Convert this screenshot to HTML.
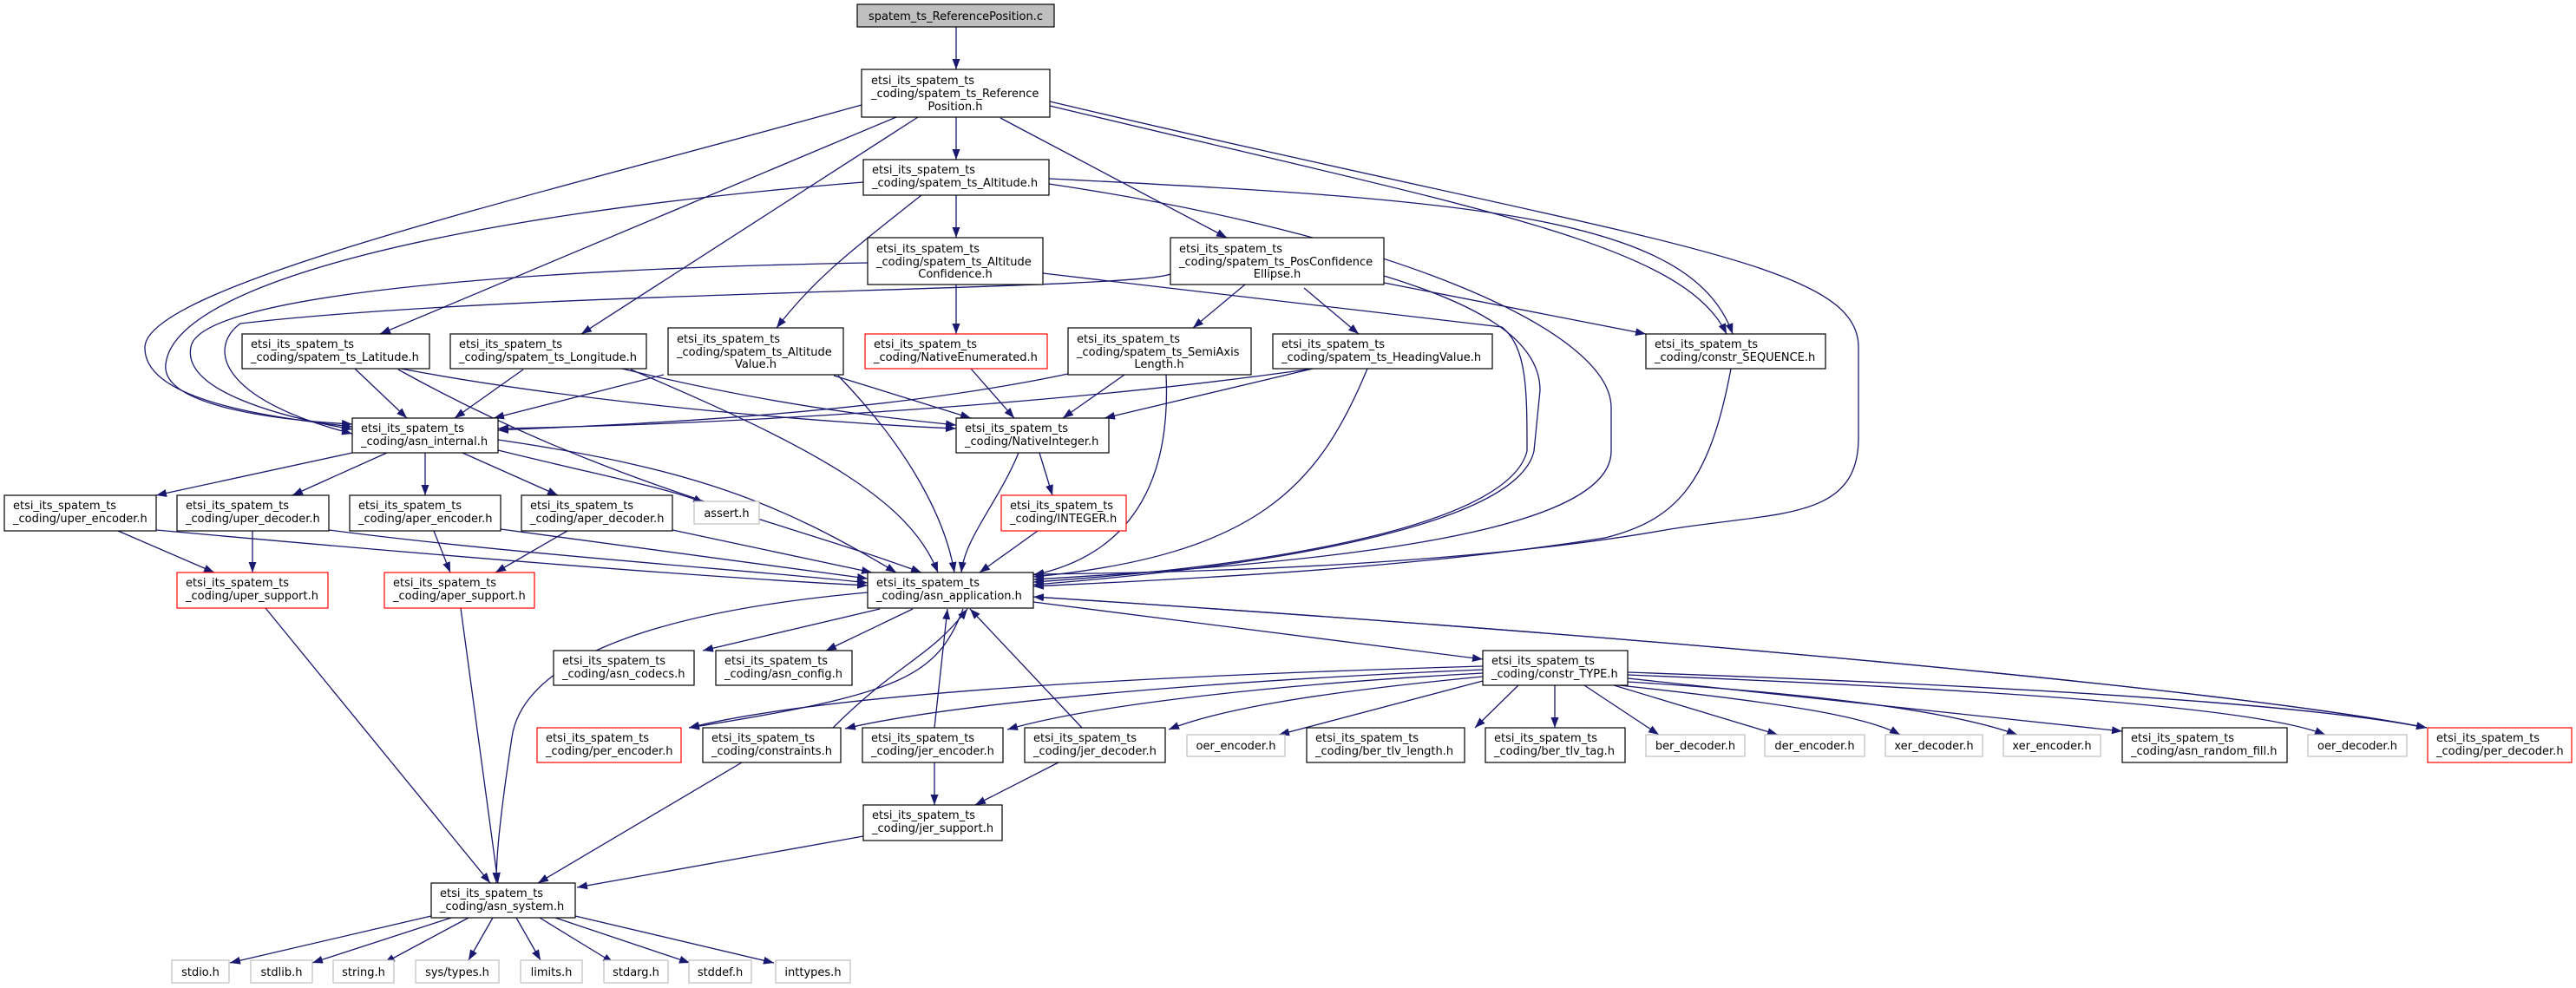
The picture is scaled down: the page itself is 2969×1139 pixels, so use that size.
<!DOCTYPE html>
<html><head><meta charset="utf-8"><style>
html,body{margin:0;padding:0;background:#fff;}
svg{display:block;}
text{font-family:"DejaVu Sans","Liberation Sans",sans-serif;font-size:13px;fill:#000;}
.n{fill:#fff;stroke:#000;stroke-width:1.2;}
.g{fill:#fff;stroke:#bfbfbf;stroke-width:1.2;}
.r{fill:#fff;stroke:#ff0000;stroke-width:1.2;}
.e{fill:none;stroke:#191970;stroke-width:1.3;}
</style></head><body>
<svg width="2969" height="1139" viewBox="0 0 2969 1139" xmlns="http://www.w3.org/2000/svg">
<defs><marker id="a" markerUnits="userSpaceOnUse" markerWidth="12" markerHeight="10" refX="12" refY="4.5" orient="auto"><path d="M0,0 L12,4.5 L0,9 z" fill="#191970"/></marker></defs>
<g class="e" marker-end="url(#a)">
<path d="M1102,31 L1102,80"/>
<path d="M1102,135 L1102,184"/>
<path d="M1033,135 L438,385"/>
<path d="M1058,135 L670,385"/>
<path d="M993,121 C600,230 170,330 167,400 C165,460 300,480 406,492"/>
<path d="M1153,136 L1414,274"/>
<path d="M1210,122 C1700,240 1940,280 1990,385"/>
<path d="M1210,117 C1900,280 2142,300 2142,400 L2142,505 C2142,600 2050,590 1925,610 C1700,650 1400,660 1191,662"/>
<path d="M1209,206 C1700,230 1950,250 1997,385"/>
<path d="M1209,212 C1600,270 1857,380 1857,470 L1857,520 C1857,620 1500,650 1191,668"/>
<path d="M1202,315 L1731,377 C1760,400 1760,450 1760,520 C1740,600 1500,650 1191,671"/>
<path d="M1595,318 C1700,350 1775,390 1775,450 L1768,520 C1750,600 1500,650 1191,674"/>
<path d="M1995,425 C1970,560 1930,600 1850,620 C1600,660 1300,670 1191,676"/>
<path d="M1576,425 C1520,560 1450,640 1191,665"/>
<path d="M1344,432 C1350,560 1300,640 1191,663"/>
<path d="M1000,303 C600,310 230,340 220,400 C210,450 320,480 406,495"/>
<path d="M1102,328 L1102,385"/>
<path d="M995,210 C500,250 200,330 191,420 C185,470 330,485 406,489"/>
<path d="M1102,225 L1102,274"/>
<path d="M1062,225 C980,290 940,320 895,378"/>
<path d="M1349,316 C1300,335 600,335 277,373 C240,400 250,460 406,500"/>
<path d="M1435,328 L1375,378"/>
<path d="M1503,332 L1566,385"/>
<path d="M1595,326 L1897,385"/>
<path d="M409,425 L469,482"/>
<path d="M462,425 C700,470 1000,490 1102,494"/>
<path d="M459,426 C700,560 900,600 1062,660"/>
<path d="M603,426 L524,482"/>
<path d="M717,425 C900,470 1050,485 1102,490"/>
<path d="M727,426 C950,520 1050,580 1081,660"/>
<path d="M765,432 L569,482"/>
<path d="M961,433 L1119,482"/>
<path d="M966,433 C1050,520 1090,600 1100,660"/>
<path d="M1119,425 L1169,482"/>
<path d="M1231,431 C1000,480 700,490 574,496"/>
<path d="M1296,432 L1225,482"/>
<path d="M1513,425 C1200,470 800,490 574,494"/>
<path d="M1513,425 L1273,482"/>
<path d="M1174,522 C1150,580 1112,620 1108,660"/>
<path d="M1198,522 L1213,571"/>
<path d="M1196,612 L1129,660"/>
<path d="M406,522 L180,571"/>
<path d="M446,522 L337,571"/>
<path d="M490,522 L490,571"/>
<path d="M533,522 L643,571"/>
<path d="M574,519 C700,550 780,565 811,580"/>
<path d="M574,507 C800,540 900,580 1033,660"/>
<path d="M136,612 L247,660"/>
<path d="M291,612 L291,660"/>
<path d="M500,612 L519,660"/>
<path d="M654,612 L571,660"/>
<path d="M180,611 C500,640 800,665 1000,675"/>
<path d="M379,611 C600,640 900,660 1000,672"/>
<path d="M577,610 L1000,667"/>
<path d="M775,611 L1005,660"/>
<path d="M306,701 L565,1018"/>
<path d="M531,701 L574,1018"/>
<path d="M1000,683 C700,710 600,780 590,850 C575,950 572,990 572,1018"/>
<path d="M1014,702 L810,750"/>
<path d="M1052,702 L952,750"/>
<path d="M1191,694 L1709,760"/>
<path d="M1191,688 C2000,740 2600,800 2797,839"/>
<path d="M2797,839 C2600,800 2000,740 1191,688"/>
<path d="M1876,775 C2300,790 2650,810 2797,839"/>
<path d="M1876,778 C2300,795 2600,815 2680,847"/>
<path d="M1876,782 L2446,843"/>
<path d="M1876,786 C2100,800 2250,820 2325,847"/>
<path d="M1866,790 C2050,810 2150,825 2190,847"/>
<path d="M1860,790 L2049,847"/>
<path d="M1826,790 L1912,847"/>
<path d="M1792,790 L1792,839"/>
<path d="M1750,790 L1700,839"/>
<path d="M1709,785 L1474,847"/>
<path d="M1709,780 C1500,800 1400,820 1347,841"/>
<path d="M1709,776 C1450,790 1250,815 1161,841"/>
<path d="M1709,772 C1400,785 1100,810 974,840"/>
<path d="M1709,768 C1300,780 950,800 794,839"/>
<path d="M1110,702 C1080,780 1040,800 794,839"/>
<path d="M960,839 C1040,760 1070,760 1115,702"/>
<path d="M1077,839 L1092,702"/>
<path d="M1247,839 L1118,702"/>
<path d="M855,879 L620,1018"/>
<path d="M1077,879 L1077,928"/>
<path d="M1220,879 L1124,928"/>
<path d="M995,964 L665,1023"/>
<path d="M497,1056 L265,1110"/>
<path d="M520,1058 L360,1110"/>
<path d="M540,1058 L443,1110"/>
<path d="M568,1058 L540,1107"/>
<path d="M595,1058 L623,1107"/>
<path d="M622,1058 L707,1110"/>
<path d="M640,1058 L795,1110"/>
<path d="M663,1056 L892,1110"/>
</g>
<g>
<rect x="988" y="5" width="227" height="26" fill="#bfbfbf" stroke="#000" stroke-width="1.2"/>
<text x="1101.5" y="23" text-anchor="middle">spatem_ts_ReferencePosition.c</text>
</g>
<rect class="n" x="993" y="80" width="217" height="55"/>
<text x="1004" y="97">etsi_its_spatem_ts</text><text x="1004" y="112">_coding/spatem_ts_Reference</text><text x="1101" y="127" text-anchor="middle">Position.h</text>
<rect class="n" x="995" y="184" width="214" height="41"/>
<text x="1005" y="200">etsi_its_spatem_ts</text><text x="1005" y="215">_coding/spatem_ts_Altitude.h</text>
<rect class="n" x="1000" y="274" width="202" height="54"/>
<text x="1010" y="291">etsi_its_spatem_ts</text><text x="1010" y="306">_coding/spatem_ts_Altitude</text><text x="1101" y="320" text-anchor="middle">Confidence.h</text>
<rect class="n" x="1349" y="274" width="246" height="54"/>
<text x="1359" y="291">etsi_its_spatem_ts</text><text x="1359" y="306">_coding/spatem_ts_PosConfidence</text><text x="1472" y="320" text-anchor="middle">Ellipse.h</text>
<rect class="n" x="279" y="385" width="216" height="40"/>
<text x="289" y="401">etsi_its_spatem_ts</text><text x="289" y="416">_coding/spatem_ts_Latitude.h</text>
<rect class="n" x="519" y="385" width="226" height="40"/>
<text x="529" y="401">etsi_its_spatem_ts</text><text x="529" y="416">_coding/spatem_ts_Longitude.h</text>
<rect class="n" x="770" y="378" width="202" height="54"/>
<text x="780" y="395">etsi_its_spatem_ts</text><text x="780" y="410">_coding/spatem_ts_Altitude</text><text x="871" y="424" text-anchor="middle">Value.h</text>
<rect class="r" x="997" y="385" width="210" height="40"/>
<text x="1007" y="401">etsi_its_spatem_ts</text><text x="1007" y="416">_coding/NativeEnumerated.h</text>
<rect class="n" x="1231" y="378" width="211" height="54"/>
<text x="1241" y="395">etsi_its_spatem_ts</text><text x="1241" y="410">_coding/spatem_ts_SemiAxis</text><text x="1336" y="424" text-anchor="middle">Length.h</text>
<rect class="n" x="1467" y="385" width="253" height="40"/>
<text x="1477" y="401">etsi_its_spatem_ts</text><text x="1477" y="416">_coding/spatem_ts_HeadingValue.h</text>
<rect class="n" x="1897" y="385" width="207" height="40"/>
<text x="1907" y="401">etsi_its_spatem_ts</text><text x="1907" y="416">_coding/constr_SEQUENCE.h</text>
<rect class="n" x="406" y="482" width="168" height="40"/>
<text x="416" y="498">etsi_its_spatem_ts</text><text x="416" y="513">_coding/asn_internal.h</text>
<rect class="n" x="1102" y="482" width="176" height="40"/>
<text x="1112" y="498">etsi_its_spatem_ts</text><text x="1112" y="513">_coding/NativeInteger.h</text>
<rect class="n" x="5" y="571" width="175" height="41"/>
<text x="15" y="587">etsi_its_spatem_ts</text><text x="15" y="602">_coding/uper_encoder.h</text>
<rect class="n" x="204" y="571" width="175" height="41"/>
<text x="214" y="587">etsi_its_spatem_ts</text><text x="214" y="602">_coding/uper_decoder.h</text>
<rect class="n" x="403" y="571" width="174" height="41"/>
<text x="413" y="587">etsi_its_spatem_ts</text><text x="413" y="602">_coding/aper_encoder.h</text>
<rect class="n" x="601" y="571" width="174" height="41"/>
<text x="611" y="587">etsi_its_spatem_ts</text><text x="611" y="602">_coding/aper_decoder.h</text>
<rect class="g" x="800" y="578" width="75" height="26"/>
<text x="837.5" y="596" text-anchor="middle">assert.h</text>
<rect class="r" x="1154" y="571" width="144" height="41"/>
<text x="1164" y="587">etsi_its_spatem_ts</text><text x="1164" y="602">_coding/INTEGER.h</text>
<rect class="r" x="204" y="660" width="174" height="41"/>
<text x="214" y="676">etsi_its_spatem_ts</text><text x="214" y="691">_coding/uper_support.h</text>
<rect class="r" x="443" y="660" width="173" height="41"/>
<text x="453" y="676">etsi_its_spatem_ts</text><text x="453" y="691">_coding/aper_support.h</text>
<rect class="n" x="1000" y="660" width="191" height="41"/>
<text x="1010" y="676">etsi_its_spatem_ts</text><text x="1010" y="691">_coding/asn_application.h</text>
<rect class="n" x="638" y="750" width="162" height="40"/>
<text x="648" y="766">etsi_its_spatem_ts</text><text x="648" y="781">_coding/asn_codecs.h</text>
<rect class="n" x="825" y="750" width="157" height="40"/>
<text x="835" y="766">etsi_its_spatem_ts</text><text x="835" y="781">_coding/asn_config.h</text>
<rect class="n" x="1709" y="750" width="167" height="40"/>
<text x="1719" y="766">etsi_its_spatem_ts</text><text x="1719" y="781">_coding/constr_TYPE.h</text>
<rect class="r" x="619" y="839" width="166" height="40"/>
<text x="629" y="855">etsi_its_spatem_ts</text><text x="629" y="870">_coding/per_encoder.h</text>
<rect class="n" x="810" y="839" width="159" height="40"/>
<text x="820" y="855">etsi_its_spatem_ts</text><text x="820" y="870">_coding/constraints.h</text>
<rect class="n" x="994" y="839" width="162" height="40"/>
<text x="1004" y="855">etsi_its_spatem_ts</text><text x="1004" y="870">_coding/jer_encoder.h</text>
<rect class="n" x="1181" y="839" width="162" height="40"/>
<text x="1191" y="855">etsi_its_spatem_ts</text><text x="1191" y="870">_coding/jer_decoder.h</text>
<rect class="g" x="1368" y="847" width="113" height="25"/>
<text x="1424.5" y="864" text-anchor="middle">oer_encoder.h</text>
<rect class="n" x="1506" y="839" width="182" height="40"/>
<text x="1516" y="855">etsi_its_spatem_ts</text><text x="1516" y="870">_coding/ber_tlv_length.h</text>
<rect class="n" x="1712" y="839" width="161" height="40"/>
<text x="1722" y="855">etsi_its_spatem_ts</text><text x="1722" y="870">_coding/ber_tlv_tag.h</text>
<rect class="g" x="1897" y="847" width="114" height="25"/>
<text x="1954" y="864" text-anchor="middle">ber_decoder.h</text>
<rect class="g" x="2034" y="847" width="115" height="25"/>
<text x="2091.5" y="864" text-anchor="middle">der_encoder.h</text>
<rect class="g" x="2173" y="847" width="112" height="25"/>
<text x="2229" y="864" text-anchor="middle">xer_decoder.h</text>
<rect class="g" x="2309" y="847" width="112" height="25"/>
<text x="2365" y="864" text-anchor="middle">xer_encoder.h</text>
<rect class="n" x="2446" y="839" width="190" height="40"/>
<text x="2456" y="855">etsi_its_spatem_ts</text><text x="2456" y="870">_coding/asn_random_fill.h</text>
<rect class="g" x="2660" y="847" width="114" height="25"/>
<text x="2717" y="864" text-anchor="middle">oer_decoder.h</text>
<rect class="r" x="2798" y="839" width="166" height="40"/>
<text x="2808" y="855">etsi_its_spatem_ts</text><text x="2808" y="870">_coding/per_decoder.h</text>
<rect class="n" x="995" y="928" width="160" height="41"/>
<text x="1005" y="944">etsi_its_spatem_ts</text><text x="1005" y="959">_coding/jer_support.h</text>
<rect class="n" x="497" y="1018" width="166" height="40"/>
<text x="507" y="1034">etsi_its_spatem_ts</text><text x="507" y="1049">_coding/asn_system.h</text>
<rect class="g" x="198" y="1107" width="66" height="26"/><text x="231" y="1125" text-anchor="middle">stdio.h</text>
<rect class="g" x="289" y="1107" width="71" height="26"/><text x="324.5" y="1125" text-anchor="middle">stdlib.h</text>
<rect class="g" x="384" y="1107" width="70" height="26"/><text x="419" y="1125" text-anchor="middle">string.h</text>
<rect class="g" x="479" y="1107" width="96" height="26"/><text x="527" y="1125" text-anchor="middle">sys/types.h</text>
<rect class="g" x="600" y="1107" width="71" height="26"/><text x="635.5" y="1125" text-anchor="middle">limits.h</text>
<rect class="g" x="696" y="1107" width="74" height="26"/><text x="733" y="1125" text-anchor="middle">stdarg.h</text>
<rect class="g" x="794" y="1107" width="72" height="26"/><text x="830" y="1125" text-anchor="middle">stddef.h</text>
<rect class="g" x="894" y="1107" width="86" height="26"/><text x="937" y="1125" text-anchor="middle">inttypes.h</text>
</svg>
</body></html>
